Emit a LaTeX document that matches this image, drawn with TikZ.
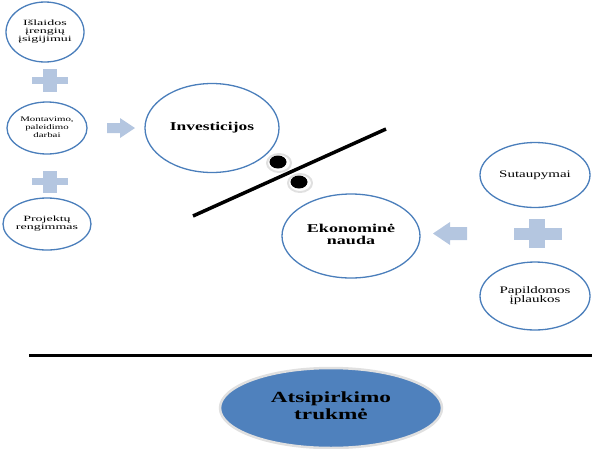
\documentclass[tikz,border=0pt]{standalone}
\usepackage{fontspec}
\setmainfont{Liberation Serif}
\usetikzlibrary{shapes.geometric}
\definecolor{ebl}{HTML}{4A7EBB}
\definecolor{fillbl}{HTML}{4F81BD}
\definecolor{lbl}{HTML}{B4C6E0}
\newcommand{\wtxt}[2]{\scalebox{#1}[1]{\begin{tabular}{@{}c@{}}#2\end{tabular}}}
\tikzset{
  bub/.style={ellipse, draw=ebl, line width=1.3pt, inner sep=0pt, fill=white},
  blk/.style={fill=lbl, draw=none},
  ballring/.style={ellipse, fill=white, draw=black!12, line width=2pt, inner sep=0pt, minimum width=24pt, minimum height=18pt},
  ballcore/.style={ellipse, fill=black, inner sep=0pt, minimum width=17pt, minimum height=13pt},
}
\begin{document}
\begin{tikzpicture}[x=1pt,y=-1pt]
\useasboundingbox (0,0) rectangle (592,448);
% left column
\node[bub, minimum width=78pt, minimum height=60pt, font=\fontsize{8}{8.3}\selectfont] (e1) at (45,32) {\wtxt{1.75}{Išlaidos\\įrengių\\įsigijimui}};
\node[bub, minimum width=80pt, minimum height=52pt, font=\fontsize{7}{7.6}\selectfont] (e2) at (47,128) {\wtxt{1.55}{Montavimo,\\paleidimo\\darbai}};
\node[bub, minimum width=80pt, minimum height=52pt, font=\fontsize{8}{8}\selectfont] (e3) at (47,224) {\wtxt{1.75}{Projektų\\rengimmas}};
% pluses left
\fill[blk] (32,77) rectangle (68,84);
\fill[blk] (43,69) rectangle (57,92);
\fill[blk] (32,178) rectangle (68,185);
\fill[blk] (43,171) rectangle (57,193);
% right arrow
\fill[blk] (107,123) -- (120,123) -- (120,118) -- (135,128) -- (120,138) -- (120,133) -- (107,133) -- cycle;
% investicijos
\node[bub, minimum width=134pt, minimum height=89pt, font=\bfseries\fontsize{12}{12}\selectfont] (inv) at (212,128) {\wtxt{1.45}{Investicijos}};
% balance line
\coordinate (l1) at (193,216);
\coordinate (l2) at (386,129);
\draw[line width=3.5pt] (l1) -- (l2);
% balls
\node[ballring] (r1) at (279,163) {};
\node[ballcore] (b1) at (278,162) {};
\node[ballring] (r2) at (300,183) {};
\node[ballcore] (b2) at (299,182) {};
% ekonomine nauda
\node[bub, minimum width=138pt, minimum height=84pt, font=\bfseries\fontsize{12}{12}\selectfont] (eko) at (351,236) {\wtxt{1.5}{Ekonominė\\nauda}};
% left arrow
\fill[blk] (467,227) -- (450,227) -- (450,222) -- (433,233.5) -- (450,245) -- (450,240) -- (467,240) -- cycle;
% right column
\node[bub, minimum width=110pt, minimum height=65pt, font=\fontsize{10}{10}\selectfont] (sut) at (535,175) {\wtxt{1.5}{Sutaupymai}};
\fill[blk] (514,228) rectangle (562,240);
\fill[blk] (529,219) rectangle (545,248);
\node[bub, minimum width=110pt, minimum height=68pt, font=\fontsize{10}{9.5}\selectfont] (pap) at (535,296) {\wtxt{1.5}{Papildomos\\įplaukos}};
% horizontal line
\coordinate (h1) at (29,355);
\coordinate (h2) at (592,355);
\draw[line width=3pt] (h1) -- (h2);
% bottom ellipse
\node[ellipse, fill=fillbl, draw=black!12, line width=2.5pt, inner sep=0pt, minimum width=222pt, minimum height=80pt, font=\bfseries\fontsize{15.5}{17}\selectfont] (atp) at (331,408) {\wtxt{1.5}{Atsipirkimo\\trukmė}};
\end{tikzpicture}
\end{document}
